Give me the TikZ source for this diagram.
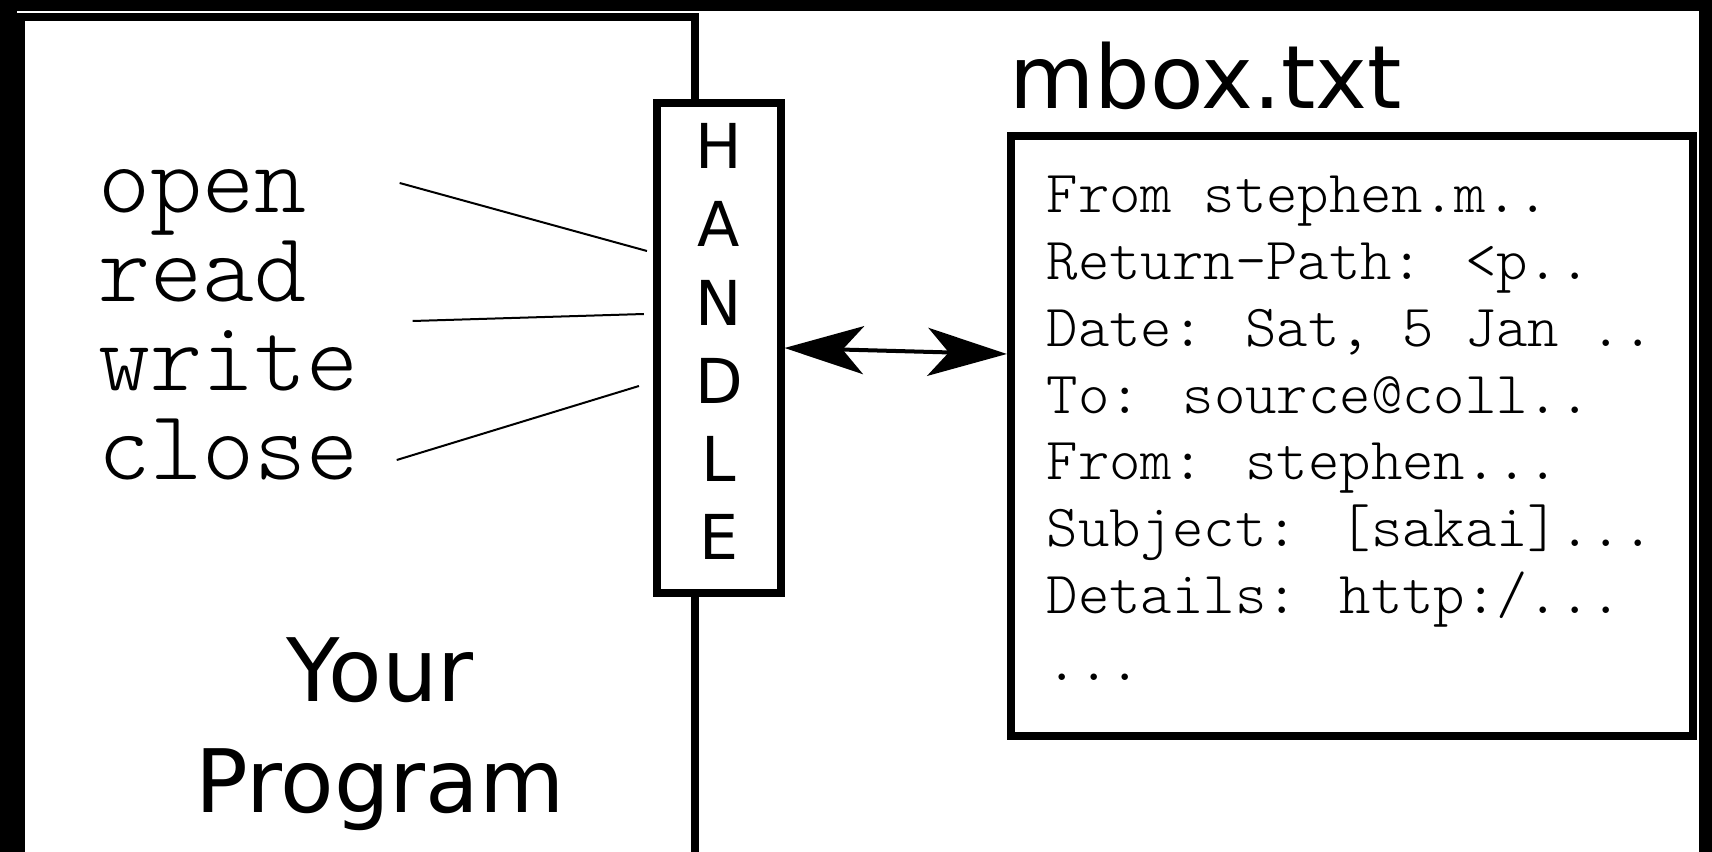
\documentclass[tikz,border=0pt]{standalone}
\usepackage{fontspec}
\setmainfont{DejaVu Sans}
\usepackage{tikz}
\usetikzlibrary{positioning}
\usetikzlibrary{arrows.meta}
\tikzset{>={Stealth[length=7.9mm,width=4.8mm,inset=2.1mm]}}

\begin{document}
\begin{tikzpicture}[x=0.01cm, y=-0.01cm, boxnode/.style={rectangle, draw=black, line width=0.8mm, fill=white, inner sep=0pt}, wordnode/.style={font=\ttfamily\fontseries{l}\fontsize{28.2}{34}\selectfont, inner sep=0pt, anchor=base west}, mailnode/.style={font=\ttfamily\fontseries{l}\fontsize{17}{19}\selectfont, inner sep=0pt, align=left, anchor=north west}, titlenode/.style={font=\fontsize{24.9}{31.6}\selectfont, inner sep=0pt, align=center}, letternode/.style={font=\fontsize{17.6}{22.2}\selectfont, inner sep=0pt, align=center}, link/.style={line width=0.2mm}]

    \useasboundingbox (0,0) rectangle (1712,852);
    \fill (0,0) rectangle (1712,11);
    \fill (0,0) rectangle (17,852);
    \fill (1699,0) rectangle (1712,852);

    %Nodes
    \node[boxnode, fill=none, minimum width=6.735cm, minimum height=9cm, anchor=north west](program) at (17,13.5){};
    \node[boxnode, minimum width=1.23cm, minimum height=4.89cm](handle) at (719,348){};
    \node[letternode](handletext) at (719,341.5){H\\A\\N\\D\\L\\E};
    \node[boxnode, minimum width=6.82cm, minimum height=5.995cm](mbox) at (1352,436.25){};
    \node[titlenode, anchor=base west](mboxname) at ([shift={(2,-23.5)}]mbox.north west){mbox.txt};
    \node[titlenode](yourprogram) at (380,734.5){Your\\Program};
    \node[wordnode](open) at (98,213){open};
    \node[wordnode](read) at (98,302){read};
    \node[wordnode](write) at (98,391){write};
    \node[wordnode](close) at (98,480){close};
    \node[mailnode](mail) at (1046,175.5){From stephen.m..\\Return-Path: <p..\\Date: Sat, 5 Jan ..\\To: source@coll..\\From: stephen...\\Subject: [sakai]...\\Details: http:/...\\...};

    %Lines
    \draw[link] ([shift={(92,-30)}]open.base east) -- ([shift={(-6.5,-97)}]handle.west);
    \draw[link] ([shift={(105,19)}]read.base east) -- ([shift={(-9.5,-34)}]handle.west);
    \draw[link] ([shift={(37,-20)}]close.base east) -- ([shift={(-14.5,38)}]handle.west);
    \draw[<->, line width=0.4mm] (handle.east) -- ([yshift=-0.6mm]handle.east -| mbox.west);

\end{tikzpicture}
\end{document}
